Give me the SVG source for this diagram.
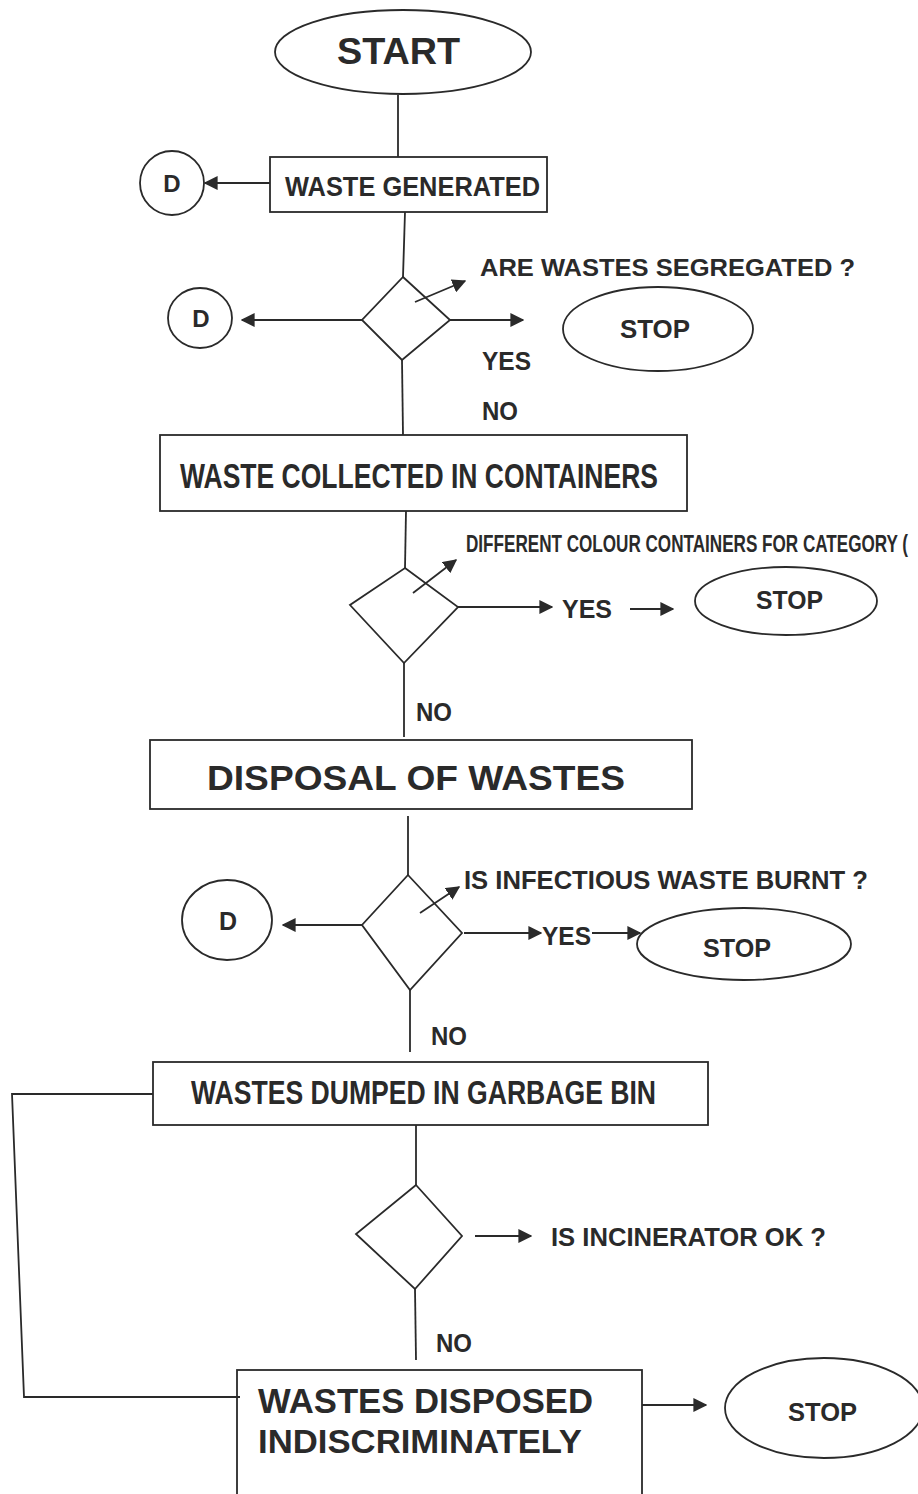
<svg xmlns="http://www.w3.org/2000/svg" width="918" height="1494" viewBox="0 0 918 1494">
<style>
.sh{fill:none;stroke:#2a2a2a;stroke-width:1.8}
.ln{fill:none;stroke:#2a2a2a;stroke-width:1.8}
.t{font-family:"Liberation Sans Narrow","Liberation Sans",Arial,sans-serif;font-weight:bold;fill:#2a2a2a}
.m{text-anchor:middle}
</style>
<defs>
<marker id="ahl" viewBox="0 0 10 10" refX="9" refY="5" markerWidth="14" markerHeight="14" markerUnits="userSpaceOnUse" orient="auto">
<path d="M0,0 L10,5 L0,10 z" fill="#2a2a2a"/>
</marker>
</defs>
<rect width="918" height="1494" fill="#ffffff"/>

<g id="connectors">
<line class="ln" x1="398" y1="95" x2="398" y2="157"/>
<line class="ln" x1="270" y1="183" x2="205" y2="183" marker-end="url(#ahl)"/>
<line class="ln" x1="405" y1="212" x2="403" y2="277"/>
<line class="ln" x1="362" y1="320" x2="242" y2="320" marker-end="url(#ahl)"/>
<line class="ln" x1="450" y1="320" x2="523" y2="320" marker-end="url(#ahl)"/>
<line class="ln" x1="415" y1="302" x2="465" y2="281" marker-end="url(#ahl)"/>
<line class="ln" x1="402" y1="360" x2="403" y2="435"/>
<line class="ln" x1="406" y1="511" x2="405" y2="568"/>
<line class="ln" x1="413" y1="593" x2="456" y2="560" marker-end="url(#ahl)"/>
<line class="ln" x1="458" y1="607" x2="552" y2="607" marker-end="url(#ahl)"/>
<line class="ln" x1="630" y1="609" x2="673" y2="609" marker-end="url(#ahl)"/>
<line class="ln" x1="404" y1="663" x2="404" y2="737"/>
<line class="ln" x1="408" y1="816" x2="408" y2="875"/>
<line class="ln" x1="362" y1="925" x2="283" y2="925" marker-end="url(#ahl)"/>
<line class="ln" x1="420" y1="913" x2="459" y2="887" marker-end="url(#ahl)"/>
<line class="ln" x1="464" y1="933" x2="541" y2="933" marker-end="url(#ahl)"/>
<line class="ln" x1="592" y1="933" x2="640" y2="933" marker-end="url(#ahl)"/>
<line class="ln" x1="410" y1="990" x2="410" y2="1052"/>
<line class="ln" x1="416" y1="1125" x2="416" y2="1185"/>
<line class="ln" x1="475" y1="1236" x2="531" y2="1236" marker-end="url(#ahl)"/>
<line class="ln" x1="415" y1="1289" x2="416" y2="1360"/>
<polyline class="ln" points="153,1094 12,1094 24,1397 240,1397"/>
<line class="ln" x1="642" y1="1405" x2="706" y2="1405" marker-end="url(#ahl)"/>
</g>

<g id="start">
<ellipse class="sh" cx="403" cy="52" rx="128" ry="42"/>
<text class="t" x="337" y="64" font-size="36" textLength="123" lengthAdjust="spacingAndGlyphs">START</text>
</g>

<g id="waste-generated">
<rect class="sh" x="270" y="157" width="277" height="55"/>
<text class="t" x="285" y="196" font-size="27" textLength="255" lengthAdjust="spacingAndGlyphs">WASTE GENERATED</text>
</g>

<g id="d1">
<ellipse class="sh" cx="172" cy="183" rx="32" ry="32"/>
<text class="t m" x="172" y="192" font-size="24">D</text>
</g>

<g id="decision1">
<polygon class="sh" points="403,277 450,320 402,360 362,320"/>
<text class="t" x="480" y="276" font-size="24" textLength="375" lengthAdjust="spacingAndGlyphs">ARE WASTES SEGREGATED ?</text>
<text class="t" x="482" y="370" font-size="25" textLength="49" lengthAdjust="spacingAndGlyphs">YES</text>
<text class="t" x="482" y="420" font-size="25" textLength="36" lengthAdjust="spacingAndGlyphs">NO</text>
</g>

<g id="d2">
<ellipse class="sh" cx="200" cy="318" rx="32" ry="30"/>
<text class="t m" x="201" y="327" font-size="24">D</text>
</g>

<g id="stop1">
<ellipse class="sh" cx="658" cy="329" rx="95" ry="42"/>
<text class="t" x="620" y="338" font-size="25" textLength="70" lengthAdjust="spacingAndGlyphs">STOP</text>
</g>

<g id="waste-collected">
<rect class="sh" x="160" y="435" width="527" height="76"/>
<text class="t" x="180" y="488" font-size="35" textLength="478" lengthAdjust="spacingAndGlyphs">WASTE COLLECTED IN CONTAINERS</text>
</g>

<g id="decision2">
<polygon class="sh" points="405,568 458,607 404,663 350,605"/>
<text class="t" transform="translate(466,552) scale(1,1.45)" x="0" y="0" font-size="17" textLength="442" lengthAdjust="spacingAndGlyphs">DIFFERENT COLOUR CONTAINERS FOR CATEGORY (</text>
<text class="t" x="562" y="618" font-size="25" textLength="50" lengthAdjust="spacingAndGlyphs">YES</text>
<text class="t" x="416" y="721" font-size="25" textLength="36" lengthAdjust="spacingAndGlyphs">NO</text>
</g>

<g id="stop2">
<ellipse class="sh" cx="786" cy="601" rx="91" ry="34"/>
<text class="t" x="756" y="609" font-size="25" textLength="67" lengthAdjust="spacingAndGlyphs">STOP</text>
</g>

<g id="disposal">
<rect class="sh" x="150" y="740" width="542" height="69"/>
<text class="t" x="207" y="790" font-size="35" textLength="418" lengthAdjust="spacingAndGlyphs">DISPOSAL OF WASTES</text>
</g>

<g id="decision3">
<polygon class="sh" points="408,875 462,933 410,990 362,925"/>
<text class="t" x="464" y="889" font-size="25" textLength="404" lengthAdjust="spacingAndGlyphs">IS INFECTIOUS WASTE BURNT ?</text>
<text class="t" x="542" y="945" font-size="25" textLength="49" lengthAdjust="spacingAndGlyphs">YES</text>
<text class="t" x="431" y="1045" font-size="25" textLength="36" lengthAdjust="spacingAndGlyphs">NO</text>
</g>

<g id="d3">
<ellipse class="sh" cx="227" cy="920" rx="45" ry="40"/>
<text class="t m" x="228" y="930" font-size="25">D</text>
</g>

<g id="stop3">
<ellipse class="sh" cx="744" cy="944" rx="107" ry="36"/>
<text class="t" x="703" y="957" font-size="25" textLength="68" lengthAdjust="spacingAndGlyphs">STOP</text>
</g>

<g id="garbage-bin">
<rect class="sh" x="153" y="1062" width="555" height="63"/>
<text class="t" x="191" y="1104" font-size="34" textLength="465" lengthAdjust="spacingAndGlyphs">WASTES DUMPED IN GARBAGE BIN</text>
</g>

<g id="decision4">
<polygon class="sh" points="416,1185 462,1236 415,1289 356,1234"/>
<text class="t" x="551" y="1246" font-size="25" textLength="275" lengthAdjust="spacingAndGlyphs">IS INCINERATOR OK ?</text>
<text class="t" x="436" y="1352" font-size="25" textLength="36" lengthAdjust="spacingAndGlyphs">NO</text>
</g>

<g id="indiscriminate">
<rect class="sh" x="237" y="1370" width="405" height="140"/>
<text class="t" x="258" y="1413" font-size="35" textLength="335" lengthAdjust="spacingAndGlyphs">WASTES DISPOSED</text>
<text class="t" x="258" y="1453" font-size="34" textLength="324" lengthAdjust="spacingAndGlyphs">INDISCRIMINATELY</text>
</g>

<g id="stop4">
<ellipse class="sh" cx="824" cy="1408" rx="99" ry="50"/>
<text class="t" x="788" y="1421" font-size="25" textLength="69" lengthAdjust="spacingAndGlyphs">STOP</text>
</g>
</svg>
